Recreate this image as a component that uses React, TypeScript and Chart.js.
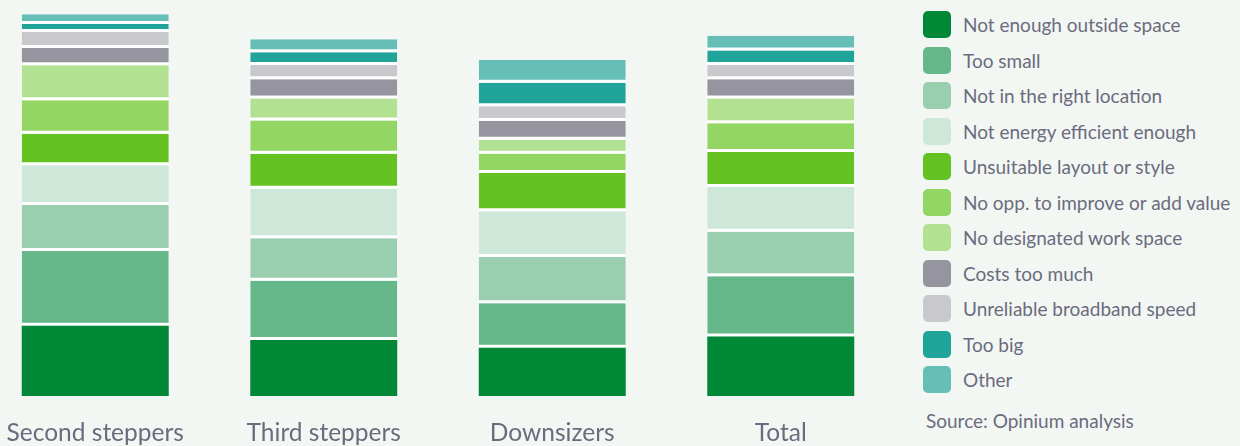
import React, { useEffect, useRef } from "react";
import { Chart, registerables } from "chart.js";

Chart.register(...registerables);

// ---- Data ----
const categories = ["Second steppers", "Third steppers", "Downsizers", "Total"];

const seriesNames = [
  "Not enough outside space",
  "Too small",
  "Not in the right location",
  "Not energy efficient enough",
  "Unsuitable layout or style",
  "No opp. to improve or add value",
  "No designated work space",
  "Costs too much",
  "Unreliable broadband speed",
  "Too big",
  "Other",
];

const seriesColors = [
  "#008837",
  "#66b78a",
  "#99cfae",
  "#cde7d9",
  "#64c322",
  "#93d664",
  "#b2e291",
  "#96949f",
  "#c9c9cd",
  "#20a399",
  "#65bfb7",
];

const notEnoughOutsideSpace = [20.1, 16.0, 13.8, 17.0];
const tooSmall = [21.3, 16.9, 12.7, 17.2];
const notInRightLocation = [13.2, 12.2, 13.2, 12.7];
const notEnergyEfficient = [11.3, 14.1, 13.1, 12.8];
const unsuitableLayout = [9.0, 10.0, 10.9, 10.0];
const noOppToImprove = [9.6, 9.5, 5.5, 8.2];
const noDesignatedWorkSpace = [10.0, 6.3, 4.0, 7.1];
const costsTooMuch = [4.9, 5.5, 5.4, 5.5];
const unreliableBroadband = [4.6, 4.1, 4.2, 4.1];
const tooBig = [2.3, 3.6, 6.7, 4.1];
const other = [2.8, 3.7, 6.5, 4.2];

const seriesValues = [
  notEnoughOutsideSpace,
  tooSmall,
  notInRightLocation,
  notEnergyEfficient,
  unsuitableLayout,
  noOppToImprove,
  noDesignatedWorkSpace,
  costsTooMuch,
  unreliableBroadband,
  tooBig,
  other,
];

const sourceNote = "Source: Opinium analysis";
const yMax = 110;

const BG = "#f2f7f4";
const TEXT = "#6c6b7d";
const FONT = "Lato, 'Open Sans', sans-serif";

export default function App() {
  const canvasRef = useRef<HTMLCanvasElement | null>(null);

  useEffect(() => {
    document.body.style.margin = "0";
    document.body.style.background = BG;
    document.documentElement.style.overflow = "hidden";
    const canvas = canvasRef.current;
    if (!canvas) return;
    const chart = new Chart(canvas, {
      type: "bar",
      data: {
        labels: categories,
        datasets: seriesNames.map((name, i) => ({
          label: name,
          data: seriesValues[i],
          backgroundColor: seriesColors[i],
          borderColor: "#ffffff",
          borderWidth: i === 0 ? 0 : { top: 0, right: 0, bottom: 3, left: 0 },
          borderSkipped: false,
          barPercentage: 0.6433,
          categoryPercentage: 1,
        })),
      },
      options: {
        animation: false,
        responsive: false,
        maintainAspectRatio: false,
        layout: { padding: { top: 11, left: 0, right: 0, bottom: 0 } },
        plugins: {
          legend: { display: false },
          tooltip: { enabled: false },
        },
        scales: {
          x: {
            stacked: true,
            grid: { display: false, drawTicks: false },
            border: { display: false },
            ticks: {
              color: TEXT,
              font: { family: FONT, size: 24.5 },
              padding: 22.3,
              maxRotation: 0,
              autoSkip: false,
            },
          },
          y: {
            stacked: true,
            display: false,
            min: 0,
            max: yMax,
          },
        },
      },
    });
    return () => chart.destroy();
  }, []);

  return (
    <div
      style={{
        position: "absolute",
        left: 0,
        top: 0,
        width: 1240,
        height: 446,
        overflow: "hidden",
        background: BG,
        fontFamily: FONT,
        color: TEXT,
      }}
    >
      <canvas
        ref={canvasRef}
        width={914}
        height={470}
        style={{ position: "absolute", left: -19, top: 0, width: 914, height: 470 }}
      />
      {seriesNames.map((name, i) => (
        <div
          key={name}
          style={{
            position: "absolute",
            left: 923,
            top: 11 + i * 35.5,
            height: 27,
            display: "flex",
            alignItems: "center",
            whiteSpace: "nowrap",
          }}
        >
          <div
            style={{
              width: 28,
              height: 27,
              borderRadius: 5,
              background: seriesColors[i],
              marginRight: 12,
              flex: "none",
            }}
          />
          <span style={{ fontSize: 19, lineHeight: "normal" }}>{name}</span>
        </div>
      ))}
      <div
        style={{
          position: "absolute",
          left: 926,
          top: 408.5,
          fontSize: 19,
          lineHeight: "normal",
          whiteSpace: "nowrap",
        }}
      >
        {sourceNote}
      </div>
    </div>
  );
}
